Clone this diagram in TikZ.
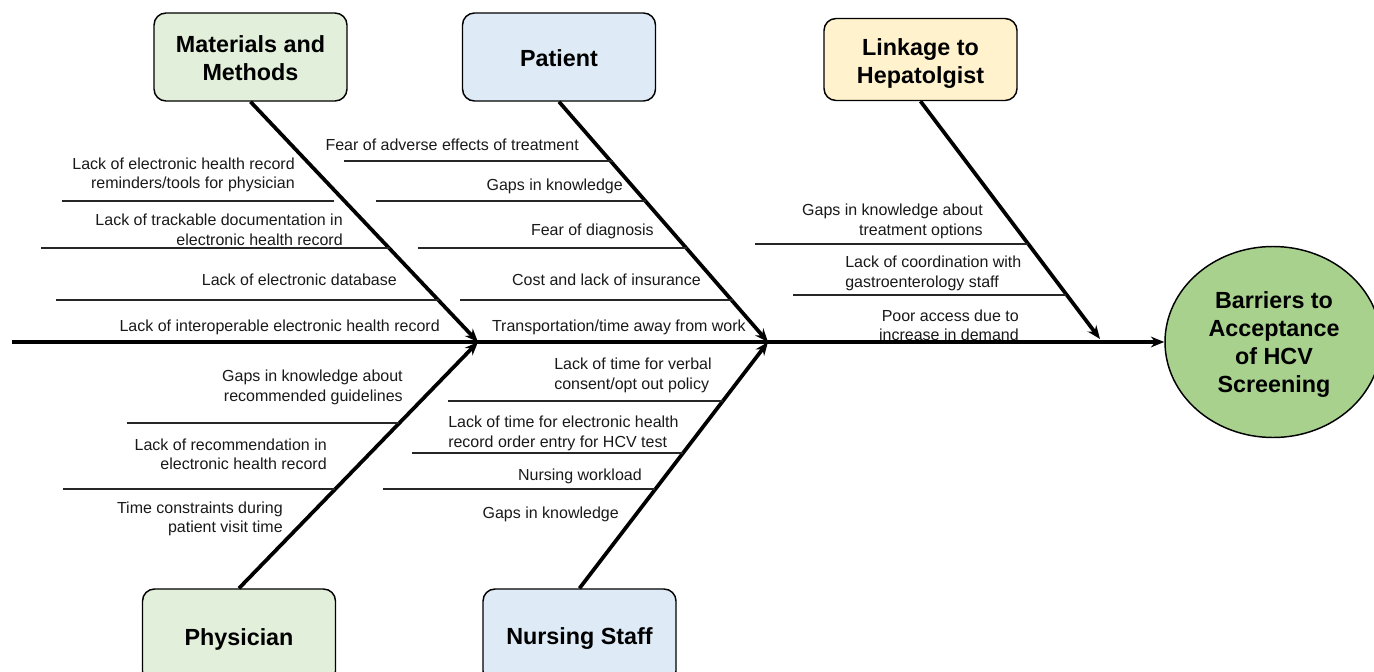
\documentclass[tikz,border=0pt]{standalone}
\usepackage{fontspec}
\setmainfont{Liberation Sans}
\usetikzlibrary{arrows.meta,shapes.geometric}
\definecolor{mgreen}{HTML}{E2EFDA}
\definecolor{mblue}{HTML}{DEEBF7}
\definecolor{myellow}{HTML}{FFF2CC}
\definecolor{cgreen}{HTML}{A9D18E}
\begin{document}
\begin{tikzpicture}[x=0.75pt,y=-0.75pt,
  cat/.style={draw=black,line width=1.1pt,rounded corners=9pt,minimum width=144.75pt,minimum height=66pt,inner sep=0pt},
  ttl/.style={inner sep=0pt,align=center,font=\fontsize{17.5}{21}\selectfont\bfseries},
  lbl/.style={inner sep=0pt,font=\fontsize{12}{14.6}\selectfont,text=black!90,yshift=-1.5pt},
  rl/.style={lbl,anchor=east,align=right},
  ll/.style={lbl,anchor=west,align=left},
  bone/.style={line width=2.8pt,-{Stealth[length=10pt,width=8pt]}},
  rib/.style={line width=1.1pt,draw=black!85}
]
\useasboundingbox (0,0) rectangle (1374,671);
\clip (0,0) rectangle (1374,671);

% category boxes
\node[cat,fill=mgreen] (mm) at (250.5,57) {};
\node[cat,fill=mblue] (pat) at (559,57) {};
\node[cat,fill=myellow,minimum height=61.5pt] (lnk) at (920.5,59.5) {};
\node[cat,fill=mgreen,minimum height=70.5pt] (phy) at (239,636) {};
\node[cat,fill=mblue,minimum height=70.5pt] (nur) at (579.5,636) {};
\node[ttl] (mmt) at (250.5,58) {Materials and\\Methods};
\node[ttl] (patt) at (559,58) {Patient};
\node[ttl] (lnkt) at (920.5,63.5) {Linkage to\\Hepatolgist};
\node[ttl] (phyt) at (239,639) {Physician};
\node[ttl] (nurt) at (579.5,639) {Nursing Staff};

% goal
\node[ellipse,draw=black,line width=1.1pt,fill=cgreen,minimum width=162pt,minimum height=143.25pt,inner sep=0pt] (goal) at (1273,342) {};
\node[ttl] (goalt) at (1274,345) {Barriers to\\Acceptance\\of HCV\\Screening};

% spine
\coordinate (tail) at (12,342);
\coordinate (j1) at (478,342);
\coordinate (j2) at (768,342);
\coordinate (j3) at (1100,339);
\draw[bone] (tail) -- (goal.west);
\draw[bone] (mm.south) -- (j1);
\draw[bone] (phy.north) -- (j1);
\draw[bone] (pat.south) -- (j2);
\draw[bone] (nur.north) -- (j2);
\draw[bone] (lnk.south) -- (j3);

% ribs: materials
\coordinate (a1) at (62,201);  \coordinate (b1) at (334,201);
\coordinate (a2) at (41,248);  \coordinate (b2) at (390,248);
\coordinate (a3) at (56,300);  \coordinate (b3) at (439,300);
\draw[rib] (a1) -- (b1);
\draw[rib] (a2) -- (b2);
\draw[rib] (a3) -- (b3);
% ribs: patient
\coordinate (a4) at (344,161); \coordinate (b4) at (613,161);
\coordinate (a5) at (376,201); \coordinate (b5) at (646,201);
\coordinate (a6) at (418,248); \coordinate (b6) at (687,248);
\coordinate (a7) at (460,300); \coordinate (b7) at (733,300);
\draw[rib] (a4) -- (b4);
\draw[rib] (a5) -- (b5);
\draw[rib] (a6) -- (b6);
\draw[rib] (a7) -- (b7);
% ribs: linkage
\coordinate (a8) at (755,244); \coordinate (b8) at (1028,244);
\coordinate (a9) at (793,295); \coordinate (b9) at (1066,295);
\draw[rib] (a8) -- (b8);
\draw[rib] (a9) -- (b9);
% ribs: physician
\coordinate (a10) at (127,423); \coordinate (b10) at (399,423);
\coordinate (a11) at (63,489);  \coordinate (b11) at (335,489);
\draw[rib] (a10) -- (b10);
\draw[rib] (a11) -- (b11);
% ribs: nursing
\coordinate (a12) at (448,401); \coordinate (b12) at (723,401);
\coordinate (a13) at (412,453); \coordinate (b13) at (683,453);
\coordinate (a14) at (383,489); \coordinate (b14) at (655,489);
\draw[rib] (a12) -- (b12);
\draw[rib] (a13) -- (b13);
\draw[rib] (a14) -- (b14);

% labels: materials
\node[rl] (m1) at (295,173) {Lack of electronic health record\\reminders/tools for physician};
\node[rl] (m2) at (343,228) {Lack of trackable documentation in\\electronic health record};
\node[rl] (m3) at (397,278) {Lack of electronic database};
\node[rl] (m4) at (440,325) {Lack of interoperable electronic health record};
% labels: patient
\node[rl] (p1) at (579,143) {Fear of adverse effects of treatment};
\node[rl] (p2) at (623,184) {Gaps in knowledge};
\node[rl] (p3) at (654,229) {Fear of diagnosis};
\node[rl] (p4) at (701,278) {Cost and lack of insurance};
\node[rl] (p5) at (746,325) {Transportation/time away from work};
% labels: linkage
\node[rl] (k1) at (983,219.5) {Gaps in knowledge about\\treatment options};
\node[ll] (k2) at (845,271.5) {Lack of coordination with\\gastroenterology staff};
\node[rl] (k3) at (1019,323.5) {Poor access due to\\increase in demand};
% labels: physician
\node[rl] (h1) at (403,385.5) {Gaps in knowledge about\\recommended guidelines};
\node[rl] (h2) at (327,452.5) {Lack of recommendation in\\electronic health record};
\node[rl] (h3) at (283,517) {Time constraints during\\patient visit time};
% labels: nursing
\node[ll] (n1) at (554,373.5) {Lack of time for verbal\\consent/opt out policy};
\node[ll] (n2) at (448,431.5) {Lack of time for electronic health\\record order entry for HCV test};
\node[rl] (n3) at (642,474) {Nursing workload};
\node[rl] (n4) at (619,512) {Gaps in knowledge};
\end{tikzpicture}
\end{document}
